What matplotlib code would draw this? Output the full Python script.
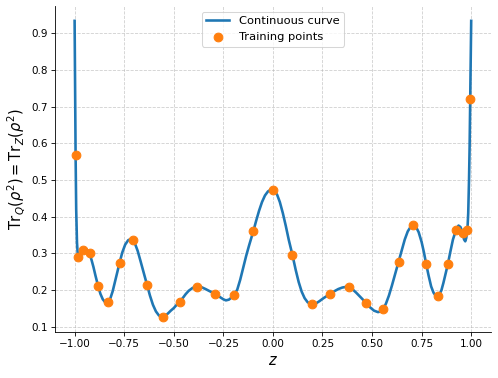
import matplotlib
matplotlib.use("Agg")
import matplotlib.pyplot as plt

# Training points
train_z = [-0.995, -0.981, -0.957, -0.924, -0.882, -0.831, -0.773, -0.707, -0.634, -0.556,
           -0.471, -0.383, -0.290, -0.195, -0.098, 0.000, 0.098, 0.195, 0.290, 0.383,
           0.471, 0.556, 0.634, 0.707, 0.773, 0.831, 0.882, 0.924, 0.957, 0.981, 0.995]
train_val = [0.567, 0.289, 0.308, 0.300, 0.212, 0.167, 0.275, 0.336, 0.213, 0.128,
             0.168, 0.209, 0.190, 0.188, 0.362, 0.473, 0.297, 0.163, 0.190, 0.208,
             0.164, 0.149, 0.277, 0.378, 0.271, 0.184, 0.270, 0.365, 0.356, 0.365, 0.721]

# Continuous curve samples
curve_z = [-1.000, -0.998, -0.995, -0.992, -0.988, -0.984, -0.981, -0.977, -0.972, -0.965,
           -0.957, -0.948, -0.940, -0.932, -0.924, -0.915, -0.905, -0.895, -0.882, -0.870,
           -0.858, -0.846, -0.838, -0.831, -0.820, -0.808, -0.795, -0.783, -0.773, -0.760,
           -0.745, -0.730, -0.718, -0.707, -0.695, -0.682, -0.668, -0.652, -0.634, -0.620,
           -0.605, -0.590, -0.575, -0.560, -0.545, -0.530, -0.515, -0.500, -0.485, -0.471,
           -0.455, -0.440, -0.425, -0.405, -0.383, -0.360, -0.340, -0.315, -0.290, -0.270,
           -0.250, -0.237, -0.222, -0.208, -0.195, -0.180, -0.165, -0.150, -0.135, -0.120,
           -0.110, -0.098, -0.085, -0.070, -0.055, -0.040, -0.025, -0.010, 0.000, 0.010,
           0.022, 0.035, 0.050, 0.065, 0.080, 0.098, 0.115, 0.130, 0.145, 0.160,
           0.175, 0.185, 0.200, 0.215, 0.235, 0.255, 0.275, 0.290, 0.310, 0.330,
           0.350, 0.370, 0.383, 0.400, 0.420, 0.440, 0.456, 0.471, 0.490, 0.510,
           0.530, 0.545, 0.556, 0.570, 0.585, 0.600, 0.617, 0.634, 0.650, 0.665,
           0.680, 0.695, 0.707, 0.720, 0.735, 0.750, 0.762, 0.773, 0.785, 0.798,
           0.810, 0.822, 0.831, 0.840, 0.850, 0.860, 0.871, 0.882, 0.895, 0.908,
           0.924, 0.936, 0.946, 0.957, 0.964, 0.970, 0.975, 0.981, 0.985, 0.989,
           0.992, 0.995, 0.998, 1.000]
curve_val = [0.934, 0.780, 0.567, 0.420, 0.330, 0.295, 0.286, 0.283, 0.288, 0.300,
             0.310, 0.314, 0.311, 0.305, 0.298, 0.283, 0.263, 0.240, 0.212, 0.190,
             0.175, 0.167, 0.165, 0.167, 0.177, 0.197, 0.226, 0.253, 0.275, 0.302,
             0.324, 0.336, 0.339, 0.336, 0.326, 0.307, 0.280, 0.248, 0.213, 0.185,
             0.160, 0.142, 0.131, 0.127, 0.129, 0.136, 0.144, 0.151, 0.160, 0.168,
             0.178, 0.189, 0.198, 0.206, 0.210, 0.208, 0.203, 0.196, 0.190, 0.182,
             0.175, 0.172, 0.174, 0.180, 0.188, 0.201, 0.228, 0.260, 0.293, 0.322,
             0.340, 0.362, 0.388, 0.416, 0.440, 0.458, 0.469, 0.474, 0.473, 0.470,
             0.459, 0.440, 0.410, 0.375, 0.337, 0.297, 0.255, 0.222, 0.196, 0.178,
             0.167, 0.164, 0.162, 0.163, 0.170, 0.178, 0.185, 0.190, 0.197, 0.203,
             0.207, 0.209, 0.208, 0.203, 0.193, 0.182, 0.173, 0.164, 0.153, 0.144,
             0.140, 0.142, 0.149, 0.163, 0.185, 0.212, 0.245, 0.277, 0.310, 0.338,
             0.360, 0.373, 0.378, 0.374, 0.358, 0.331, 0.302, 0.271, 0.240, 0.210,
             0.193, 0.184, 0.183, 0.188, 0.200, 0.220, 0.245, 0.270, 0.305, 0.338,
             0.365, 0.376, 0.372, 0.356, 0.338, 0.333, 0.342, 0.365, 0.410, 0.500,
             0.590, 0.721, 0.840, 0.934]

fig = plt.figure(figsize=(6.64, 5.04), dpi=75)
ax = fig.add_axes([0.110, 0.1225, 0.876, 0.8615])

ax.plot(curve_z, curve_val, color="#1f77b4", lw=2.5, label="Continuous curve", zorder=2)
ax.scatter(train_z, train_val, color="#ff7f0e", s=70, label="Training points", zorder=3)

ax.set_xlabel("$z$", fontsize=14)
ax.set_ylabel(r"$\mathrm{Tr}_Q(\rho^2) = \mathrm{Tr}_Z(\rho^2)$", fontsize=14)
ax.set_xticks([-1.0, -0.75, -0.5, -0.25, 0.0, 0.25, 0.5, 0.75, 1.0])
ax.set_yticks([0.1, 0.2, 0.3, 0.4, 0.5, 0.6, 0.7, 0.8, 0.9])
ax.tick_params(labelsize=10)
ax.grid(True, linestyle="--", alpha=0.6)
ax.spines["top"].set_visible(False)
ax.spines["right"].set_visible(False)
ax.legend(loc="upper center", fontsize=11)

fig.savefig("out.png", dpi=75)
